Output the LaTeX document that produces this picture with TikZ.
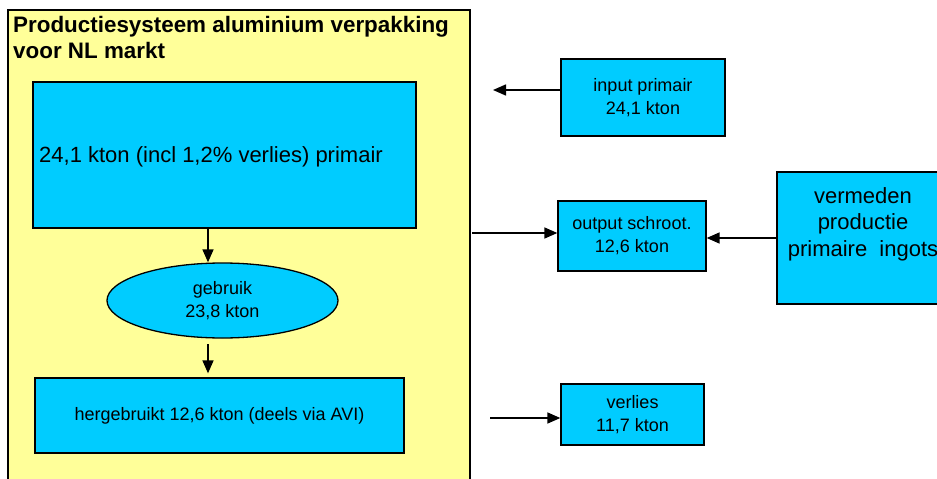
\documentclass[tikz,border=0pt]{standalone}
\usepackage{fontspec}
\setmainfont{Liberation Sans}
\usetikzlibrary{arrows.meta,shapes.geometric}
\definecolor{panelyellow}{HTML}{FFFF99}
\definecolor{boxblue}{HTML}{00CCFF}
\tikzset{
  panel/.style={draw=black, line width=1.3pt, fill=panelyellow},
  bluebox/.style={draw=black, line width=1.3pt, fill=boxblue, inner sep=0pt},
  small/.style={font=\fontsize{18}{23}\selectfont, align=center},
  big/.style={font=\fontsize{22}{26.5}\selectfont, align=center},
  titletext/.style={font=\fontsize{22.4}{26}\selectfont\bfseries, anchor=base west, inner sep=0pt},
  arr/.style={line width=1.5pt, -{Triangle[length=13pt,width=11pt]}}
}
\begin{document}
\begin{tikzpicture}[x=1pt,y=-1pt]
\useasboundingbox (0,0) rectangle (937,479);
\clip (0,0) rectangle (937,479);
\fill[white] (0,0) rectangle (937,479);
% panel
\draw[panel] (8,10) rectangle (470,500);
\node[titletext] (t1) at (13,32) {Productiesysteem aluminium verpakking};
\node[titletext] (t2) at (13,58) {voor NL markt};
% left column
\node[bluebox, minimum width=383pt, minimum height=146pt] (prim) at (224.5,155) {};
\node[big, anchor=center] (primtxt) at (211,157) {24,1 kton (incl 1,2\% verlies) primair};
\node[bluebox, ellipse, minimum width=231pt, minimum height=75pt, small] (use) at (222.5,300.5) {gebruik\\23,8 kton};
\node[bluebox, minimum width=369pt, minimum height=75pt, small] (herg) at (219.5,415.5) {hergebruikt 12,6 kton (deels via AVI)};
\coordinate (a1) at (208,229);
\draw[arr] (a1) -- (a1 |- use.north);
\coordinate (a2) at (208,344);
\draw[arr, shorten >=4pt] (a2) -- (a2 |- herg.north);
% right side
\node[bluebox, minimum width=164pt, minimum height=77pt, small] (inp) at (643,97.5) {input primair\\24,1 kton};
\node[bluebox, minimum width=148pt, minimum height=70pt, small] (outs) at (632,236) {output schroot.\\12,6 kton};
\node[bluebox, minimum width=176pt, minimum height=132pt] (verm) at (865,238) {};
\node[big, anchor=center] (vermtxt) at (863,224) {vermeden\\productie\\primaire\ \ ingots};
\node[bluebox, minimum width=143pt, minimum height=61pt, small] (verl) at (632.5,414.5) {verlies\\11,7 kton};
\coordinate (inEnd) at (493,90);
\draw[arr] (inEnd -| inp.west) -- (inEnd);
\coordinate (outStart) at (472,233);
\draw[arr] (outStart) -- (outStart -| outs.west);
\draw[arr] (verm.west) -- (verm.west -| outs.east);
\coordinate (vlStart) at (490,418);
\draw[arr] (vlStart) -- (vlStart -| verl.west);
\end{tikzpicture}
\end{document}
